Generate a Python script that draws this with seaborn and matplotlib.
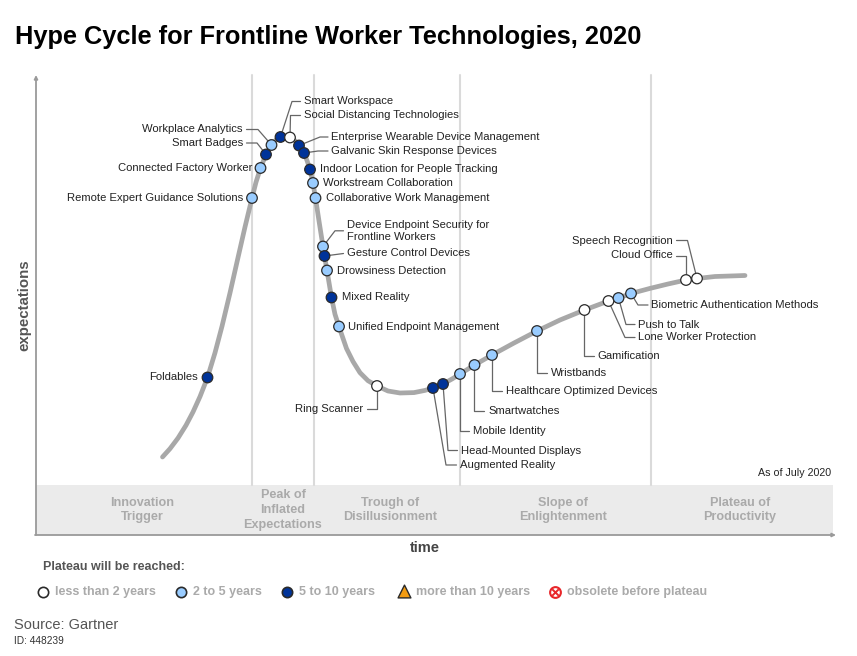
import matplotlib
matplotlib.use("Agg")
import matplotlib.pyplot as plt
import seaborn as sns
import pandas as pd
from matplotlib.patches import Rectangle

# ---------------- data (pixel-space units) ----------------
tech_names = [
    "Foldables", "Remote Expert Guidance Solutions", "Connected Factory Worker",
    "Smart Badges", "Workplace Analytics", "Smart Workspace",
    "Social Distancing Technologies", "Enterprise Wearable Device Management",
    "Galvanic Skin Response Devices", "Indoor Location for People Tracking",
    "Workstream Collaboration", "Collaborative Work Management",
    "Device Endpoint Security for\nFrontline Workers", "Gesture Control Devices",
    "Drowsiness Detection", "Mixed Reality", "Unified Endpoint Management",
    "Ring Scanner", "Augmented Reality", "Head-Mounted Displays", "Mobile Identity",
    "Smartwatches", "Healthcare Optimized Devices", "Wristbands", "Gamification",
    "Lone Worker Protection", "Push to Talk", "Biometric Authentication Methods",
    "Cloud Office", "Speech Recognition",
]
tech_time = [207.5, 252, 260.5, 266, 271.5, 280.5, 290, 299, 304, 310, 313, 315.5,
             323, 324.5, 327, 331.5, 339, 377, 433, 443, 460, 474.5, 492, 537,
             584.5, 608.5, 618.5, 631, 686, 697]
tech_expect = [377.5, 198, 168, 154.5, 145, 137, 137.5, 145.5, 153, 169.5, 183, 198,
               246.5, 256, 270.5, 297.5, 326.5, 386, 388, 384, 374, 365, 355, 331,
               310, 301, 298, 293.5, 280, 278.5]
tech_plateau = ["5 to 10 years", "2 to 5 years", "2 to 5 years", "5 to 10 years",
                "2 to 5 years", "5 to 10 years", "less than 2 years", "5 to 10 years",
                "5 to 10 years", "5 to 10 years", "2 to 5 years", "2 to 5 years",
                "2 to 5 years", "5 to 10 years", "2 to 5 years", "5 to 10 years",
                "2 to 5 years", "less than 2 years", "5 to 10 years", "5 to 10 years",
                "2 to 5 years", "2 to 5 years", "2 to 5 years", "2 to 5 years",
                "less than 2 years", "less than 2 years", "2 to 5 years", "2 to 5 years",
                "less than 2 years", "less than 2 years"]

curve_time = [162.5, 170, 178, 186, 193, 200, 207.5, 215, 222, 230, 238, 245, 252,
              256, 260.5, 266, 271.5, 276, 280.5, 285, 290, 295, 299, 304, 307, 310,
              313, 315.5, 319, 323, 324.5, 327, 331.5, 335, 339, 346.5, 353, 360,
              368, 377, 388, 400, 414, 425, 433, 443, 452, 460, 474.5, 492, 514, 537,
              560, 584.5, 597, 608.5, 618.5, 631, 650, 668, 686, 697, 715, 745]
curve_expect = [457, 448.7, 438.1, 425.3, 412, 396.6, 377.5, 352.8, 326.3, 292.9,
                257.6, 227, 198, 182.2, 168, 154.5, 145, 140, 137, 135.7, 137.2,
                140.7, 145.5, 153, 160.5, 169.5, 183, 198, 221, 246.5, 256, 270.5,
                297.5, 314.3, 326.7, 348.5, 361.5, 372.7, 380.7, 386, 391, 393, 392.6,
                390.4, 388, 384, 379, 374, 365, 355, 343, 331, 320, 310, 305.3, 301,
                298, 293.5, 288.4, 284, 280, 278.5, 276.5, 275.5]

phase_names = ["Innovation\nTrigger", "Peak of\nInflated\nExpectations",
               "Trough of\nDisillusionment", "Slope of\nEnlightenment",
               "Plateau of\nProductivity"]
legend_labels = ["less than 2 years", "2 to 5 years", "5 to 10 years",
                 "more than 10 years", "obsolete before plateau"]

title_text = "Hype Cycle for Frontline Worker Technologies, 2020"

# ---------------- layout / style ----------------
palette = {"less than 2 years": "#ffffff", "2 to 5 years": "#99ccff",
           "5 to 10 years": "#003399"}

# label placement: name -> (label x, label y, ha, elbow points between label and dot)
label_layout = {
    "Foldables": (198, 377.5, "right", None),
    "Remote Expert Guidance Solutions": (243, 198, "right", None),
    "Connected Factory Worker": (252, 168, "right", None),
    "Smart Badges": (243, 143, "right", [(257, 143)]),
    "Workplace Analytics": (243, 129.5, "right", [(258, 129.5)]),
    "Smart Workspace": (304, 101.5, "left", [(292, 101.5)]),
    "Social Distancing Technologies": (304, 115.5, "left", [(290.5, 115.5)]),
    "Enterprise Wearable Device Management": (331.5, 137, "left", [(320, 137)]),
    "Galvanic Skin Response Devices": (331.5, 151, "left", [(318, 151)]),
    "Indoor Location for People Tracking": (320, 169.5, "left", None),
    "Workstream Collaboration": (323, 183, "left", None),
    "Collaborative Work Management": (326, 198, "left", None),
    "Device Endpoint Security for\nFrontline Workers": (347, 230.8, "left", [(335, 230.8)]),
    "Gesture Control Devices": (347, 253.5, "left", []),
    "Drowsiness Detection": (337, 270.5, "left", None),
    "Mixed Reality": (342, 297.5, "left", None),
    "Unified Endpoint Management": (348.5, 326.5, "left", None),
    "Ring Scanner": (363.5, 409, "right", [(377, 409)]),
    "Augmented Reality": (460, 465, "left", [(446, 465)]),
    "Head-Mounted Displays": (461, 450.5, "left", [(448, 450.5)]),
    "Mobile Identity": (473, 431, "left", [(460, 431)]),
    "Smartwatches": (488, 410.5, "left", [(474.5, 410.5)]),
    "Healthcare Optimized Devices": (506, 391, "left", [(492, 391)]),
    "Wristbands": (551, 373, "left", [(537, 373)]),
    "Gamification": (597.5, 356, "left", [(584.5, 356)]),
    "Lone Worker Protection": (638.5, 337.5, "left", [(625, 337.5)]),
    "Push to Talk": (638.5, 324.5, "left", [(626, 324.5)]),
    "Biometric Authentication Methods": (651.5, 305, "left", [(638, 305)]),
    "Cloud Office": (673, 255.5, "right", [(686, 255.5)]),
    "Speech Recognition": (673, 240.5, "right", [(687.5, 240.5)]),
}
phase_centers = [(142.5, 510), (283, 510), (390, 510), (563, 510), (740, 510)]
dividers_x = [252.5, 314.5, 460, 651]

sns.set_theme(style="white")
plt.rcParams["font.family"] = ["Liberation Sans", "DejaVu Sans"]

fig = plt.figure(figsize=(8.57, 6.56), dpi=100)
ax = fig.add_axes([0, 0, 1, 1])

# title
ax.text(15, 44, title_text, fontsize=18.3, fontweight="bold", color="#000000",
        ha="left", va="baseline")

# phase band and dividers
ax.add_patch(Rectangle((36, 485), 797, 50, facecolor="#ebebeb", edgecolor="none", zorder=0))
for dx in dividers_x:
    ax.plot([dx, dx], [75, 485], color="#dadada", lw=1.5, zorder=1)
for name, (cx, cy) in zip(phase_names, phase_centers):
    ax.text(cx, cy, name, fontsize=9.1, fontweight="bold", color="#aaaaaa",
            ha="center", va="center", linespacing=1.3)

# axes arrows
ax.annotate("", xy=(836, 535), xytext=(35, 535),
            arrowprops=dict(arrowstyle="-|>", color="#9a9a9a", lw=1.3,
                            mutation_scale=5, shrinkA=0, shrinkB=0))
ax.annotate("", xy=(36, 75), xytext=(36, 535),
            arrowprops=dict(arrowstyle="-|>", color="#9a9a9a", lw=1.3,
                            mutation_scale=5, shrinkA=0, shrinkB=0))
ax.text(24, 305, "expectations", rotation=90, fontsize=10.8, fontweight="bold",
        color="#555555", ha="center", va="center")
ax.text(425, 548, "time", fontsize=10.5, fontweight="bold", color="#444444",
        ha="center", va="center")
ax.text(831, 473, "As of July 2020", fontsize=7.7, color="#222222",
        ha="right", va="center")

# hype curve
curve_df = pd.DataFrame({"time": curve_time, "expect": curve_expect})
sns.lineplot(data=curve_df, x="time", y="expect", sort=False, estimator=None,
             color="#a8a8a8", lw=3.4, ax=ax, zorder=2,
             solid_capstyle="round", solid_joinstyle="round")

# leader lines and labels
for name, tx, ty in zip(tech_names, tech_time, tech_expect):
    lx, ly, ha, elbow = label_layout[name]
    if elbow is not None:
        start = (lx - 3.5, ly) if ha == "left" else (lx + 3.5, ly)
        pts = [start] + list(elbow) + [(tx, ty)]
        ax.plot([p[0] for p in pts], [p[1] for p in pts], color="#666666",
                lw=0.9, zorder=3)
    ax.text(lx, ly, name, fontsize=8.1, color="#222222", ha=ha, va="center",
            linespacing=1.25, zorder=6)

# technology dots
tech_df = pd.DataFrame({"time": tech_time, "expect": tech_expect,
                        "plateau": tech_plateau})
sns.scatterplot(data=tech_df, x="time", y="expect", hue="plateau", palette=palette,
                s=58, edgecolor="#2a2a2a", linewidth=0.9, legend=False, ax=ax, zorder=5)

# legend
ax.text(43, 567.5, "Plateau will be reached:", fontsize=9, fontweight="bold",
        color="#555555", ha="left", va="center")
leg_x = [43.5, 181, 287.5, 404.5, 555]
leg_colors = ["#ffffff", "#99ccff", "#003399"]
for i, lab in enumerate(legend_labels):
    mx = leg_x[i]
    if i < 3:
        ax.scatter([mx], [591.5], s=55, marker="o", facecolor=leg_colors[i],
                   edgecolor="#2a2a2a", linewidth=1.2, zorder=5)
    elif i == 3:
        ax.scatter([mx], [590.5], s=85, marker="^", facecolor="#f39c12",
                   edgecolor="#2a2a2a", linewidth=1.0, zorder=5)
    else:
        ax.scatter([mx], [591.5], s=60, marker="o", facecolor="#ffffff",
                   edgecolor="#e8262a", linewidth=1.5, zorder=5)
        ax.scatter([mx], [591.5], s=22, marker="x", color="#e8262a",
                   linewidth=1.4, zorder=6)
    ax.text(mx + 12, 591.5, lab, fontsize=9, fontweight="bold",
            color="#aaaaaa", ha="left", va="center")

# source
ax.text(14, 625, "Source: Gartner", fontsize=10.5, color="#555555",
        ha="left", va="center")
ax.text(14, 640.5, "ID: 448239", fontsize=7.3, color="#333333",
        ha="left", va="center")

ax.set_xlim(0, 857)
ax.set_ylim(656, 0)
ax.axis("off")

fig.savefig("out.png", dpi=100)
